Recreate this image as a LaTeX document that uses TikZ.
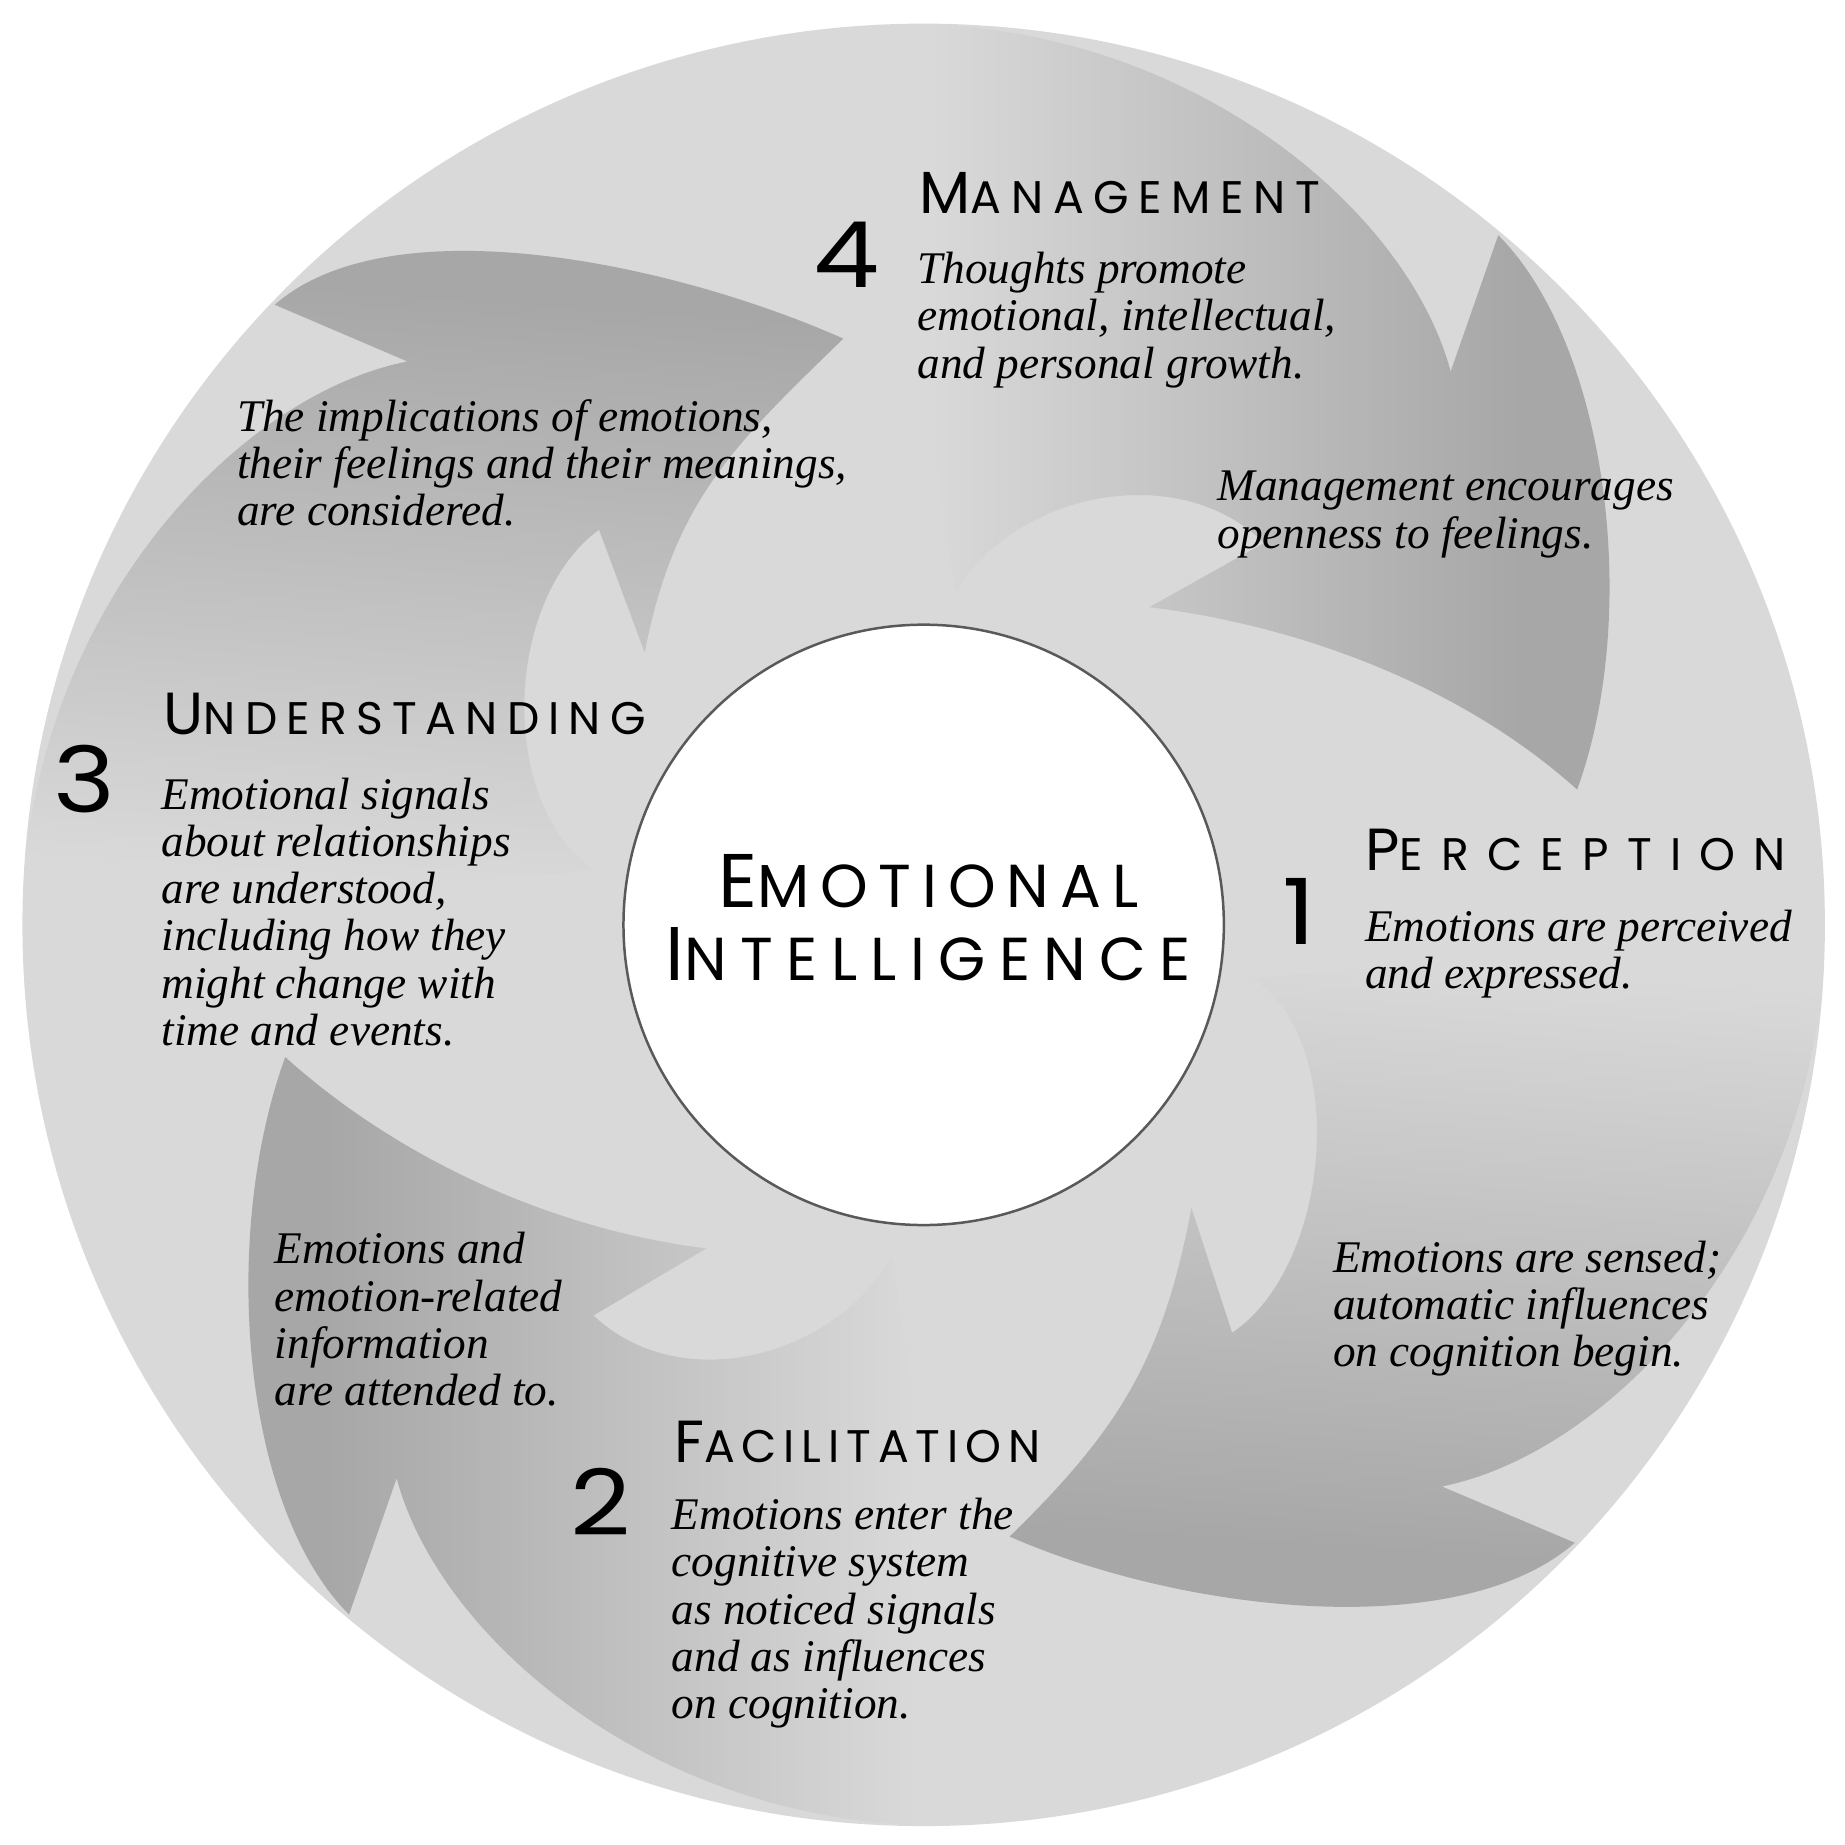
\documentclass[tikz,border=0pt]{standalone}
\usepackage{fontspec}
\setmainfont{Liberation Serif}
\newfontfamily\headfont{Poppins}
\newfontfamily\numfont{Poppins}
\definecolor{ringc}{gray}{0.851}
\definecolor{arrowc}{gray}{0.655}
\definecolor{rimc}{gray}{0.35}

% one swirl arrow (drawn in the frame of the upper right arrow)
% #1 = tip radius, #2 = angular shift of the inner barb
\newcommand\arrowclip[2]{%
  \clip (50.2:760) .. controls +(-45:130) and +(70:160) .. (11.7:#1)
    .. controls +(138:130) and +(-7:130) .. ({54.6+#2}:330)
    -- ({48.3+#2}:433)
    .. controls +({135+#2}:100) and +(60:100) .. (27,281)
    -- (93.2:763)
    .. controls +(3:250) and +(105:150) .. (46.4:647)
    -- cycle;}
% #1 rotation, #2 tip radius, #3 inner barb shift
\newcommand\swirl[3]{%
  \begin{scope}[transform canvas={rotate=#1}]
    \clip (0,0) circle (763);
    \arrowclip{#2}{#3}
    \shade[left color=ringc, right color=arrowc] (5,0) rectangle (505,800);
    \fill[arrowc] (504,0) rectangle (700,800);
  \end{scope}}
% small-caps style heading: #1 big letter, #2 rest, #3 letter spacing
\newcommand\hd[3]{{\headfont\addfontfeature{LetterSpace=#3}\fontsize{14.3pt}{16pt}\selectfont #1}{\headfont\addfontfeature{LetterSpace=#3}\fontsize{11pt}{13pt}\selectfont #2}}
\newcommand\hdc[3]{{\headfont\addfontfeature{LetterSpace=#3}\fontsize{18.3pt}{20pt}\selectfont #1}{\headfont\addfontfeature{LetterSpace=#3}\fontsize{14.6pt}{16pt}\selectfont #2}}
\newcommand\blk[1]{\begin{tabular}[t]{@{}l@{}}#1\end{tabular}}
\newcommand\numb[1]{\scalebox{1.15}[1]{#1}}

\begin{document}
\begin{tikzpicture}[x=0.01cm, y=0.01cm,
  txt/.style={inner sep=0pt, anchor=base west, font=\itshape\fontsize{10.9pt}{11.38pt}\selectfont},
  head/.style={inner sep=0pt, anchor=base west},
  num/.style={inner sep=0pt, anchor=base west, font=\numfont\fontsize{22pt}{24pt}\selectfont}]
\fill[white] (-782,-779) rectangle (780,783);
\useasboundingbox (-782,-779) rectangle (780,783);
\fill[ringc] (0,0) circle (763);
\swirl{0}{565}{0}
\swirl{-93.7}{523}{-7.5}
\swirl{180}{552}{1.5}
\swirl{86.1}{501}{-5}
\node[circle, draw=rimc, line width=0.6pt, fill=white, minimum size=5.08cm, inner sep=0pt] (ei) at (0,0) {};
\node[inner sep=0pt, anchor=base, font=\fontsize{14pt}{16.2pt}\selectfont] (eit) at (4,15)
  {\begin{tabular}[t]{@{}c@{}}\hdc{E}{MOTIONAL}{18}\\\hdc{I}{NTELLIGENCE}{22}\end{tabular}};
% Management
\node[num] (n4) at (-94,540) {\numb{4}};
\node[head] (h4) at (-4,602) {\hd{M}{ANAGEMENT}{21}};
\node[txt] (t4) at (-6,543) {\blk{Thoughts promote\\emotional, intellectual,\\and personal growth.}};
\node[txt] (a4) at (248,359) {\blk{Management encourages\\openness to feelings.}};
% Perception
\node[num, anchor=base] (n1) at (318,-17) {\numb{1}};
\node[head] (h1) at (373,46) {\hd{P}{ERCEPTION}{40}};
\node[txt] (t1) at (373,-14) {\blk{Emotions are perceived\\and expressed.}};
\node[txt] (a1) at (346,-294) {\blk{Emotions are sensed;\\automatic influences\\on cognition begin.}};
% Facilitation
\node[num] (n2) at (-300,-517) {\numb{2}};
\node[head] (h2) at (-212,-455) {\hd{F}{ACILITATION}{15}};
\node[txt] (t2) at (-214,-512) {\blk{Emotions enter the\\cognitive system\\as noticed signals\\and as influences\\on cognition.}};
\node[txt] (a2) at (-550,-287) {\blk{Emotions and\\emotion-related\\information\\are attended to.}};
% Understanding
\node[num] (n3) at (-737,95) {\numb{3}};
\node[head] (h3) at (-644,161) {\hd{U}{NDERSTANDING}{20}};
\node[txt] (t3) at (-646,98) {\blk{Emotional signals\\about relationships\\are understood,\\including how they\\might change with\\time and events.}};
\node[txt] (a3) at (-582,418) {\blk{The implications of emotions,\\their feelings and their meanings,\\are considered.}};
\end{tikzpicture}
\end{document}
